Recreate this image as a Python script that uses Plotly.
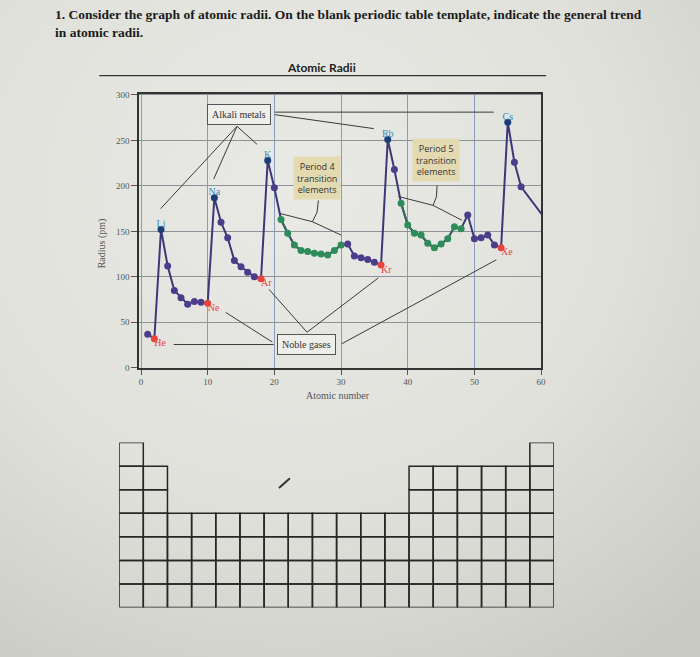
import base64
import plotly.graph_objects as go

# ---------------- data ----------------
elements = ["H", "He", "Li", "Be", "B", "C", "N", "O", "F", "Ne",
            "Na", "Mg", "Al", "Si", "P", "S", "Cl", "Ar",
            "K", "Ca", "Sc", "Ti", "V", "Cr", "Mn", "Fe", "Co", "Ni", "Cu", "Zn",
            "Ga", "Ge", "As", "Se", "Br", "Kr",
            "Rb", "Sr", "Y", "Zr", "Nb", "Mo", "Tc", "Ru", "Rh", "Pd", "Ag", "Cd",
            "In", "Sn", "Sb", "Te", "I", "Xe",
            "Cs", "Ba", "La", "Pm"]
atomic_number = list(range(1, 58)) + [61]
radius_pm = [37, 32, 152, 112, 85, 77, 70, 73, 72, 71,
             187, 160, 143, 118, 111, 105, 100, 98,
             228, 198, 163, 148, 135, 129, 128, 126, 125, 124, 129, 135,
             136, 123, 121, 119, 116, 113,
             251, 218, 181, 157, 148, 146, 137, 132, 136, 142, 155, 153,
             168, 142, 143, 146, 135, 132,
             270, 226, 199, 160]

alkali_metals = ["Li", "Na", "K", "Rb", "Cs"]
noble_gases = ["He", "Ne", "Ar", "Kr", "Xe"]
transition_p4 = ["Sc", "Ti", "V", "Cr", "Mn", "Fe", "Co", "Ni", "Cu", "Zn"]
transition_p5 = ["Y", "Zr", "Nb", "Mo", "Tc", "Ru", "Rh", "Pd", "Ag", "Cd"]

x_ticks = [0, 10, 20, 30, 40, 50, 60]
y_ticks = [0, 50, 100, 150, 200, 250, 300]

# blank periodic table: groups present in each period
period_groups = [
    [1, 18],
    [1, 2] + list(range(13, 19)),
    [1, 2] + list(range(13, 19)),
    list(range(1, 19)),
    list(range(1, 19)),
    list(range(1, 19)),
    list(range(1, 19)),
]

# ---------------- colours ----------------
BG = "#cfd0ca"
LINE = "#3c3877"
C_ALK = "#1d3d78"
C_ALK_TXT = "#3b8cb8"
C_NOBLE = "#e8443f"
C_TRANS = "#2e8b5a"
C_OTHER = "#4b3d8c"
SERIF = "Liberation Serif"

# soft paper shading for the sheet background
paper_svg = (
    '<svg xmlns="http://www.w3.org/2000/svg" width="700" height="657" preserveAspectRatio="none">'
    '<defs><radialGradient id="g" cx="0.42" cy="0.3" r="0.85">'
    '<stop offset="0" stop-color="#e9eae5"/>'
    '<stop offset="0.55" stop-color="#e0e1db"/>'
    '<stop offset="1" stop-color="#c9cbc3"/>'
    '</radialGradient></defs>'
    '<rect width="700" height="657" fill="url(#g)"/></svg>'
)
paper_src = "data:image/svg+xml;base64," + base64.b64encode(paper_svg.encode()).decode()


def category_colour(sym):
    if sym in alkali_metals:
        return C_ALK
    if sym in noble_gases:
        return C_NOBLE
    if sym in transition_p4 or sym in transition_p5:
        return C_TRANS
    return C_OTHER


def subset(names):
    idx = [elements.index(n) for n in names]
    return [atomic_number[i] for i in idx], [radius_pm[i] for i in idx]


fig = go.Figure()

# main radius curve
fig.add_trace(go.Scatter(
    x=atomic_number, y=radius_pm, mode="lines",
    line=dict(color=LINE, width=2), hoverinfo="skip", showlegend=False))

# transition-element stretches drawn in a darker green
for group in (transition_p4, transition_p5):
    gx, gy = subset(group)
    fig.add_trace(go.Scatter(
        x=gx, y=gy, mode="lines", line=dict(color="#356a5a", width=2),
        hoverinfo="skip", showlegend=False))

# markers coloured by element family
fig.add_trace(go.Scatter(
    x=atomic_number, y=radius_pm, mode="markers",
    marker=dict(size=7, color=[category_colour(s) for s in elements]),
    text=elements, hovertemplate="%{text}: %{y} pm<extra></extra>",
    showlegend=False))

# element labels
ax_, ay_ = subset(alkali_metals)
fig.add_trace(go.Scatter(
    x=ax_, y=ay_, mode="text", text=alkali_metals, textposition="top center",
    textfont=dict(family=SERIF, size=10, color=C_ALK_TXT),
    hoverinfo="skip", showlegend=False))
nx_, ny_ = subset(noble_gases)
fig.add_trace(go.Scatter(
    x=nx_, y=ny_, mode="text", text=noble_gases, textposition="bottom right",
    textfont=dict(family=SERIF, size=10, color=C_NOBLE),
    hoverinfo="skip", showlegend=False))

# ---------------- callouts ----------------
shapes = []


def seg(x0, y0, x1, y1, width=1):
    shapes.append(dict(type="line", xref="x", yref="y", x0=x0, y0=y0, x1=x1, y1=y1,
                       line=dict(color="#3a3a3a", width=width)))


# alkali metals leaders
seg(14.4, 265.5, 2.95, 175)
seg(14.4, 265.5, 10.9, 207.6)
seg(14.4, 265.5, 17.4, 245.7)
seg(20.1, 278.3, 34.9, 263)
seg(20.1, 281.1, 52.9, 281.1)
# noble gases leaders
seg(4.9, 25.6, 19.9, 25.6)
seg(12.7, 60.9, 19.7, 28.3)
seg(19.2, 86.2, 24.9, 39.1)
seg(35.6, 98.9, 24.9, 39.1)
seg(53.3, 118.8, 30.1, 26.4)
# transition-element braces
shapes.append(dict(type="path", xref="x", yref="y",
                   path="M 20.9,169.6 L 25.7,160.6 L 30.0,146 M 25.7,160.6 L 26.4,171 L 26.6,184",
                   line=dict(color="#3a3a3a", width=1)))
shapes.append(dict(type="path", xref="x", yref="y",
                   path="M 38.6,188.4 L 43.8,178.6 L 48.1,162.3 M 43.8,178.6 L 44.3,188 L 44.4,200.5",
                   line=dict(color="#3a3a3a", width=1)))

# title rule and pen stroke
shapes.append(dict(type="line", xref="paper", yref="paper",
                   x0=100 / 700, x1=550 / 700, y0=1 - 73.5 / 657, y1=1 - 73.5 / 657,
                   line=dict(color="#333333", width=1.2)))
shapes.append(dict(type="line", xref="paper", yref="paper",
                   x0=281 / 700, y0=1 - 491 / 657, x1=292 / 700, y1=1 - 481 / 657,
                   line=dict(color="#333333", width=2)))

# blank periodic table cells
for p, groups in enumerate(period_groups):
    for g in groups:
        shapes.append(dict(type="rect", xref="x2", yref="y2",
                           x0=g - 1, x1=g, y0=p, y1=p + 1,
                           line=dict(color="#262626", width=1.5)))


def note(x, y, text, **kw):
    d = dict(xref="paper", yref="paper", x=x, y=y, text=text, showarrow=False,
             xanchor="center", yanchor="middle")
    d.update(kw)
    return d


annotations = [
    note(53 / 700, 1 - 2 / 657,
         "<b>1. Consider the graph of atomic radii. On the blank periodic table template, indicate the general trend<br>in atomic radii.</b>",
         xanchor="left", yanchor="top", align="left",
         font=dict(family=SERIF, size=13.5, color="#1a1a1a")),
    note(324 / 700, 1 - 65 / 657, "<b>Atomic Radii</b>",
         font=dict(family="Lato", size=12, color="#222222")),
    note(340 / 700, 1 - 397 / 657, "Atomic number",
         font=dict(family=SERIF, size=10, color="#555555")),
    note(103 / 700, 1 - 243 / 657, "Radius (pm)", textangle=-90,
         font=dict(family=SERIF, size=10, color="#555555")),
    note(14.67, 279, "Alkali metals", xref="x", yref="y",
         font=dict(family=SERIF, size=10, color="#333333"),
         bgcolor="#eeeeea", bordercolor="#555555", borderwidth=1, borderpad=4),
    note(24.85, 25.3, "Noble gases", xref="x", yref="y",
         font=dict(family=SERIF, size=10, color="#333333"),
         bgcolor="#eeeeea", bordercolor="#555555", borderwidth=1, borderpad=4),
    note(26.45, 208.5, "Period 4<br>transition<br>elements", xref="x", yref="y",
         font=dict(family="Open Sans", size=9, color="#333333"),
         bgcolor="#e4dab2", borderpad=3),
    note(44.3, 228, "Period 5<br>transition<br>elements", xref="x", yref="y",
         font=dict(family="Open Sans", size=9, color="#333333"),
         bgcolor="#e4dab2", borderpad=3),
]

fig.update_layout(
    width=700, height=657,
    margin=dict(l=0, r=0, t=0, b=0),
    paper_bgcolor=BG, plot_bgcolor="rgba(0,0,0,0)",
    showlegend=False,
    shapes=shapes,
    annotations=annotations,
    images=[dict(source=paper_src, xref="paper", yref="paper", x=-0.01, y=1.01,
                 sizex=1.02, sizey=1.02, sizing="stretch", xanchor="left", yanchor="top",
                 layer="below")],
    xaxis=dict(domain=[140 / 700, 545 / 700], range=[-0.3, 60],
               tickvals=x_ticks, ticks="outside", ticklen=5, tickcolor="#555555",
               tickfont=dict(family=SERIF, size=9, color="#555555"),
               showgrid=True, gridcolor="#8a9ab8", gridwidth=1,
               showline=True, linecolor="#333333", linewidth=1.5, mirror=True,
               zeroline=False),
    yaxis=dict(domain=[1 - 369.3 / 657, 1 - 91.7 / 657], range=[0, 301.5],
               tickvals=y_ticks, ticks="outside", ticklen=6, tickcolor="#555555",
               tickfont=dict(family=SERIF, size=9, color="#555555"),
               showgrid=True, gridcolor="#8f9299", gridwidth=1,
               showline=True, linecolor="#333333", linewidth=1.5, mirror=True,
               zeroline=False),
    xaxis2=dict(domain=[120 / 700, 558 / 700], range=[0, 18], visible=False,
                anchor="y2", fixedrange=True),
    yaxis2=dict(domain=[1 - 612 / 657, 1 - 445 / 657], range=[7, 0], visible=False,
                anchor="x2", fixedrange=True),
)

fig.write_html("out.html")
